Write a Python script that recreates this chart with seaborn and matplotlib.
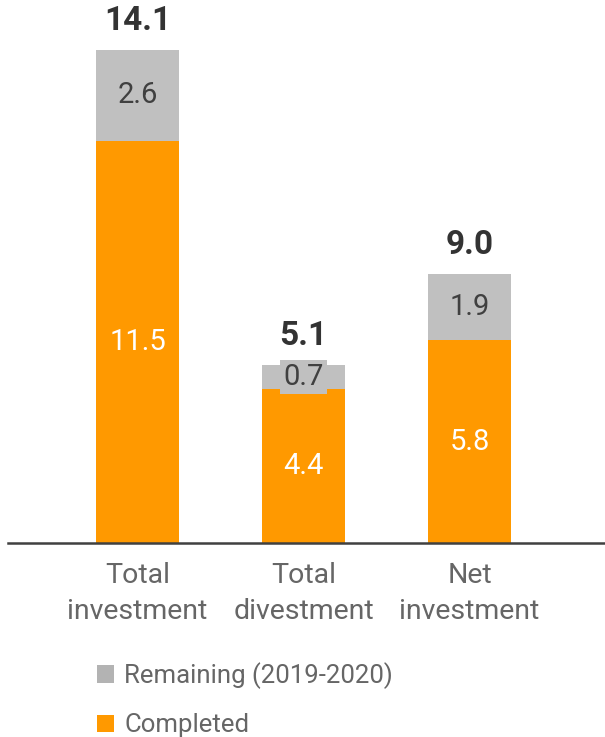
import matplotlib
matplotlib.use("Agg")
import matplotlib.pyplot as plt
from matplotlib.patches import Patch
import seaborn as sns
import pandas as pd

categories = ["Total\ninvestment", "Total\ndivestment", "Net\ninvestment"]
completed = [11.5, 4.4, 5.8]
remaining = [2.6, 0.7, 1.9]
totals = [14.1, 5.1, 9.0]
legend_labels = ["Remaining (2019-2020)", "Completed"]

ORANGE = "#ff9900"
GREY = "#c0c0c0"
LEGEND_GREY = "#b3b3b3"
TEXT = "#666666"

sns.set_theme(style="white")
plt.rcParams["font.family"] = ["Roboto", "DejaVu Sans"]

df = pd.DataFrame({
    "category": categories,
    "completed": completed,
    "remaining": remaining,
    "total": totals,
})
df["stack"] = df["completed"] + df["remaining"]

fig = plt.figure(figsize=(6.05, 7.37), dpi=100)
ax = fig.add_axes([8 / 605, 1 - 543 / 737, 597 / 605, 543 / 737])

sns.barplot(data=df, x="category", y="stack", color=GREY, width=0.5,
            saturation=1, ax=ax, linewidth=0)
sns.barplot(data=df, x="category", y="completed", color=ORANGE, width=0.5,
            saturation=1, ax=ax, linewidth=0)

ax.set_xlim(-0.78, 2.816)
ax.set_ylim(0, 543 / 35)

for i, row in df.iterrows():
    # completed value, centred in the orange segment
    ax.text(i, row["completed"] / 2, f"{row['completed']:.1f}", ha="center",
            va="center", color="white", fontsize=21, fontweight="normal")
    # remaining value, centred in the grey segment
    small = row["remaining"] < 1
    ax.text(i, row["completed"] + row["remaining"] / 2,
            f"{row['remaining']:.1f}", ha="center", va="center",
            color="#404040", fontsize=21, fontweight="normal",
            bbox=dict(facecolor=GREY, edgecolor="none", pad=2) if small else None)
    # total above the stack
    ax.annotate(f"{row['total']:.1f}", xy=(i, row["stack"]),
                xytext=(0, 9), textcoords="offset points", ha="center",
                va="bottom", color="#333333", fontsize=24, fontweight="bold")

sns.despine(ax=ax, left=True, top=True, right=True)
ax.spines["bottom"].set_color("#404040")
ax.spines["bottom"].set_linewidth(1.8)
ax.set_yticks([])
ax.set_xlabel("")
ax.set_ylabel("")
ax.tick_params(axis="x", length=0, pad=14, labelsize=20.5, labelcolor=TEXT)
for lbl in ax.get_xticklabels():
    lbl.set_linespacing(1.4)

handles = [Patch(facecolor=LEGEND_GREY, edgecolor="none"),
           Patch(facecolor=ORANGE, edgecolor="none")]
leg = fig.legend(handles, legend_labels, loc="upper left",
                 bbox_to_anchor=(74 / 605, 1 - 639 / 737), frameon=False,
                 fontsize=18.5, handlelength=0.65, handleheight=0.65,
                 handletextpad=0.4, labelspacing=0.95, labelcolor=TEXT)

fig.savefig("out.png", dpi=100)
